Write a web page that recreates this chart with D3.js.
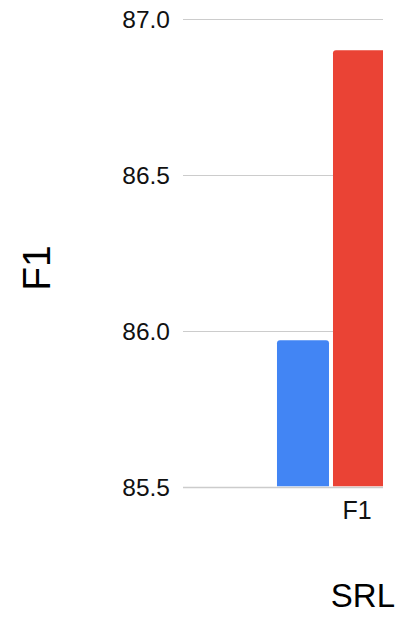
<!DOCTYPE html>
<html>
<head>
<meta charset="utf-8">
<script src="https://cdn.jsdelivr.net/npm/d3@7"></script>
<style>
  html, body { margin: 0; padding: 0; background: #fff; }
  svg { display: block; font-family: "Liberation Sans", Arial, Helvetica, sans-serif; }
</style>
</head>
<body>
<svg id="chart" width="398" height="617"></svg>
<script>
// Chart data
const categories = ["F1"];
const seriesNames = ["Baseline", "Ours"];
const seriesColors = ["#4285F4", "#EA4335"];
const seriesValues = [[85.97], [86.90]];
const yTicks = [85.5, 86.0, 86.5, 87.0];
const yTitle = "F1";
const xTitle = "SRL";

const svg = d3.select("#chart");
const W = 398, H = 617;

// Plot area: the right side runs past the visible edge and is clipped
const plot = { left: 183, right: 535, top: 19, bottom: 487, clipRight: 383 };

const y = d3.scaleLinear().domain([85.5, 87.0]).range([plot.bottom, plot.top]);

const x0 = d3.scaleBand()
  .domain(categories)
  .range([plot.left, plot.right])
  .paddingInner(0)
  .paddingOuter(0.573);

// Three slots per group; the last lies beyond the clip edge
const x1 = d3.scaleBand()
  .domain(d3.range(3))
  .range([0, x0.bandwidth()])
  .paddingInner(4 / 56)
  .paddingOuter(0);

svg.append("defs").append("clipPath").attr("id", "plotClip")
  .append("rect")
  .attr("x", 0).attr("y", 0)
  .attr("width", plot.clipRight).attr("height", H);

// Gridlines and y tick labels; lines stop at the clip edge
const yAxis = d3.axisLeft(y)
  .tickValues(yTicks)
  .tickFormat(d3.format(".1f"))
  .tickSize(-(plot.clipRight - plot.left))
  .tickPadding(13);

const gy = svg.append("g")
  .attr("transform", `translate(${plot.left},0)`)
  .call(yAxis);
gy.select(".domain").remove();
gy.selectAll(".tick line")
  .attr("stroke", "#cccccc")
  .attr("stroke-width", d => d === 85.5 ? 1.6 : 1.1);
gy.selectAll(".tick text")
  .attr("fill", "#111")
  .attr("font-size", 24.5)
  .attr("dy", "0.36em");

// Rounded-top bar path
function barPath(bx, by, bw, bh, r) {
  r = Math.min(r, bw / 2, bh);
  return `M${bx},${by + bh}V${by + r}Q${bx},${by} ${bx + r},${by}` +
         `H${bx + bw - r}Q${bx + bw},${by} ${bx + bw},${by + r}V${by + bh}Z`;
}

const barsG = svg.append("g").attr("clip-path", "url(#plotClip)");
categories.forEach((cat, ci) => {
  seriesNames.forEach((name, si) => {
    const v = seriesValues[si][ci];
    const bx = x0(cat) + x1(si);
    const by = y(v);
    barsG.append("path")
      .attr("d", barPath(bx, by, x1.bandwidth(), y(85.5) - by - 0.8, 3))
      .attr("fill", seriesColors[si]);
  });
});

// Category labels
const xAxis = d3.axisBottom(x0).tickSize(0).tickPadding(14);
const gx = svg.append("g")
  .attr("transform", `translate(0,${plot.bottom})`)
  .call(xAxis);
gx.select(".domain").remove();
gx.selectAll(".tick text")
  .attr("fill", "#111")
  .attr("font-size", 25)
  .attr("dx", "-2");

// Axis titles
svg.append("text")
  .attr("transform", "translate(50,268) rotate(-90)")
  .attr("text-anchor", "middle")
  .attr("font-size", 39)
  .attr("fill", "#000")
  .text(yTitle);

svg.append("text")
  .attr("x", 395)
  .attr("y", 607)
  .attr("text-anchor", "end")
  .attr("font-size", 33)
  .attr("fill", "#000")
  .text(xTitle);
</script>
</body>
</html>
